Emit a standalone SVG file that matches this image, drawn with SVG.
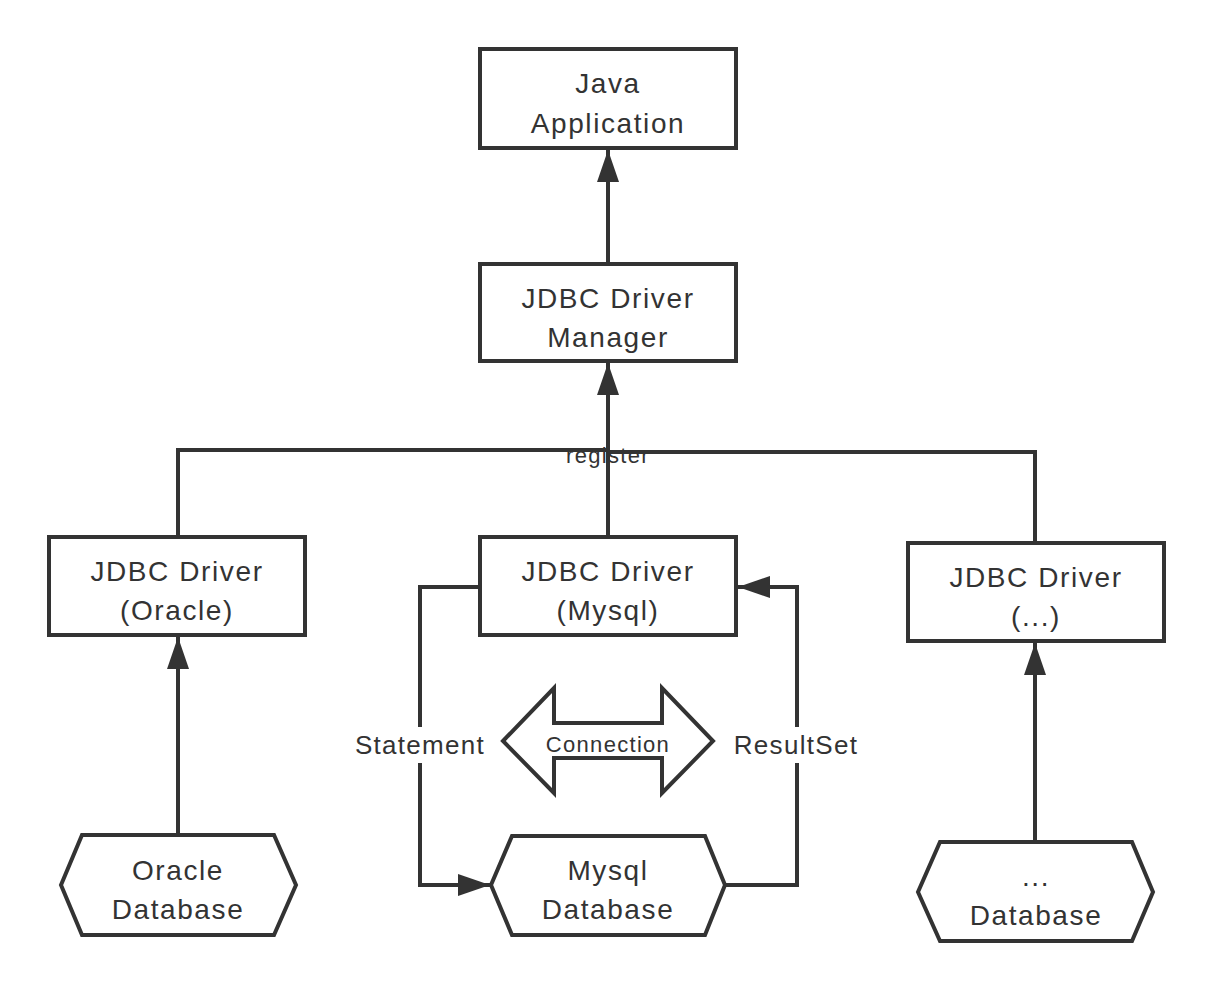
<svg xmlns="http://www.w3.org/2000/svg" width="1214" height="992" viewBox="0 0 1214 992">
<style>
.box{fill:#fff;stroke:#333;stroke-width:4}
.ln{fill:none;stroke:#333;stroke-width:4}
text{font-family:"Liberation Sans",Arial,sans-serif;fill:#333;text-anchor:middle;dominant-baseline:central}
.t{font-size:28px;letter-spacing:1.6px}
.l{font-size:26px;letter-spacing:1.3px}
.s{font-size:22px;letter-spacing:1.3px}
</style>
<defs>
<marker id="a" viewBox="0 0 32 22" refX="32" refY="11" markerWidth="32" markerHeight="22" markerUnits="userSpaceOnUse" orient="auto">
<path d="M0,0 L32,11 L0,22 Z" fill="#333"/>
</marker>
</defs>
<rect width="1214" height="992" fill="#fff"/>
<g id="connectors">
<path class="ln" d="M608,264 V150" marker-end="url(#a)"/>
<path class="ln" d="M608,537 V363" marker-end="url(#a)"/>
<path class="ln" d="M178,537 V450 H608 M608,452 H1035 V543"/>
<path class="ln" d="M178,835 V637" marker-end="url(#a)"/>
<path class="ln" d="M1035,842 V643" marker-end="url(#a)"/>
<path class="ln" d="M480,587 H420 V885 H490" marker-end="url(#a)"/>
<path class="ln" d="M725,885 H797 V587 H738" marker-end="url(#a)"/>
<text class="s" x="608" y="455">register</text>
<rect x="344" y="727" width="152" height="36" fill="#fff"/>
<text class="l" x="420" y="745">Statement</text>
<rect x="726" y="727" width="140" height="36" fill="#fff"/>
<text class="l" x="796" y="745">ResultSet</text>
</g>
<g id="connection">
<path class="box" d="M503,741 L554,688 L554,723 L662,723 L662,688 L713,741 L662,793 L662,758 L554,758 L554,793 Z"/>
<text class="s" x="608" y="744">Connection</text>
</g>
<g id="java-app">
<rect class="box" x="480" y="49" width="256" height="99"/>
<text class="t" x="608" y="83">Java</text>
<text class="t" x="608" y="123">Application</text>
</g>
<g id="driver-manager">
<rect class="box" x="480" y="264" width="256" height="97"/>
<text class="t" x="608" y="298">JDBC Driver</text>
<text class="t" x="608" y="337">Manager</text>
</g>
<g id="driver-oracle">
<rect class="box" x="49" y="537" width="256" height="98"/>
<text class="t" x="177" y="571">JDBC Driver</text>
<text class="t" x="177" y="610">(Oracle)</text>
</g>
<g id="driver-mysql">
<rect class="box" x="480" y="537" width="256" height="98"/>
<text class="t" x="608" y="571">JDBC Driver</text>
<text class="t" x="608" y="610">(Mysql)</text>
</g>
<g id="driver-other">
<rect class="box" x="908" y="543" width="256" height="98"/>
<text class="t" x="1036" y="577">JDBC Driver</text>
<text class="t" x="1036" y="616">(...)</text>
</g>
<g id="db-oracle">
<path class="box" d="M82,835 H274 L296,885 L274,935 H82 L61,885 Z"/>
<text class="t" x="178" y="870">Oracle</text>
<text class="t" x="178" y="909">Database</text>
</g>
<g id="db-mysql">
<path class="box" d="M512,836 H705 L725,885 L705,935 H512 L491,885 Z"/>
<text class="t" x="608" y="870">Mysql</text>
<text class="t" x="608" y="909">Database</text>
</g>
<g id="db-other">
<path class="box" d="M940,842 H1132 L1153,892 L1132,941 H940 L918,892 Z"/>
<text class="t" x="1036" y="876">...</text>
<text class="t" x="1036" y="915">Database</text>
</g>
</svg>
